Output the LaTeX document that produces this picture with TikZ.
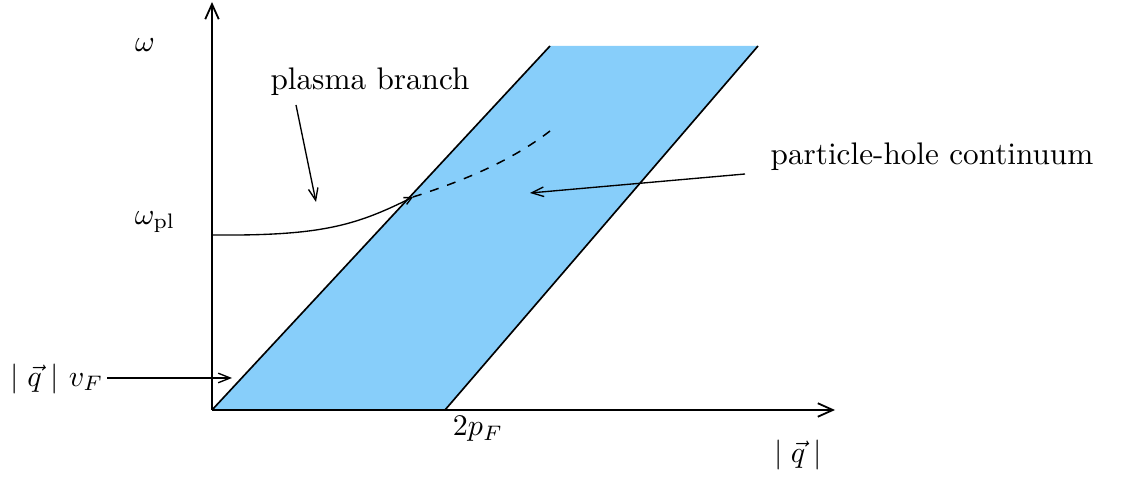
\documentclass[tikz,border=0pt]{standalone}
\usetikzlibrary{arrows.meta}
\definecolor{phfill}{RGB}{135,206,250}
\begin{document}
\begin{tikzpicture}[x=0.3333pt,y=-0.3333pt,
  axis/.style={line width=0.6pt,-{Straight Barb[length=5pt,width=4.5pt]}},
  pointer/.style={line width=0.45pt,-{Straight Barb[length=4pt,width=3.2pt]}},
  lbl/.style={inner sep=0pt,font=\fontsize{10.4}{12}\selectfont}]
\useasboundingbox (0,0) rectangle (1126,479);
% continuum
\coordinate (O) at (212,410);
\coordinate (B) at (445,410);
\coordinate (C) at (758,46);
\coordinate (D) at (550,46);
\fill[phfill] (O) -- (B) -- (C) -- (D) -- cycle;
\draw[line width=0.55pt] (O) -- (D);
\draw[line width=0.55pt] (B) -- (C);
% axes
\coordinate (ytop) at (212,2);
\coordinate (xend) at (835,410);
\draw[axis] (O) -- (ytop);
\draw[axis] (O) -- (xend);
% plasma branch
\coordinate (P0) at (212,235);
\coordinate (P1) at (413,197);
\coordinate (P2) at (550,131);
\draw[line width=0.45pt,-{Straight Barb[length=2.5pt,width=2.5pt]}] (P0) .. controls (320,236) and (355,226) .. (P1);
\draw[line width=0.5pt,dashed,dash pattern=on 3pt off 3pt] (P1) .. controls (460,182) and (510,162) .. (P2);
% labels
\node[lbl] (w) at (145,45) {$\omega$};
\node[lbl] (wpl) at (155,222) {$\omega_{\rm pl}$};
\node[lbl] (qv) at (57,379) {$|\;\vec{q}\;|\ v_F$};
\node[lbl] (tpf) at (478,429) {$2p_F$};
\node[lbl] (q) at (798,455) {$|\;\vec{q}\;|$};
\node[lbl] (pb) at (370,82) {plasma branch};
\node[lbl] (phc) at (932,157) {particle-hole continuum};
% pointers
\coordinate (pbS) at (296,105);
\coordinate (pbE) at (316,202);
\draw[pointer] (pbS) -- (pbE);
\coordinate (phS) at (745,174);
\coordinate (phE) at (530,193);
\draw[pointer] (phS) -- (phE);
\coordinate (qvS) at (107,378);
\coordinate (qvE) at (232,378);
\draw[pointer] (qvS) -- (qvE);
\end{tikzpicture}
\end{document}
